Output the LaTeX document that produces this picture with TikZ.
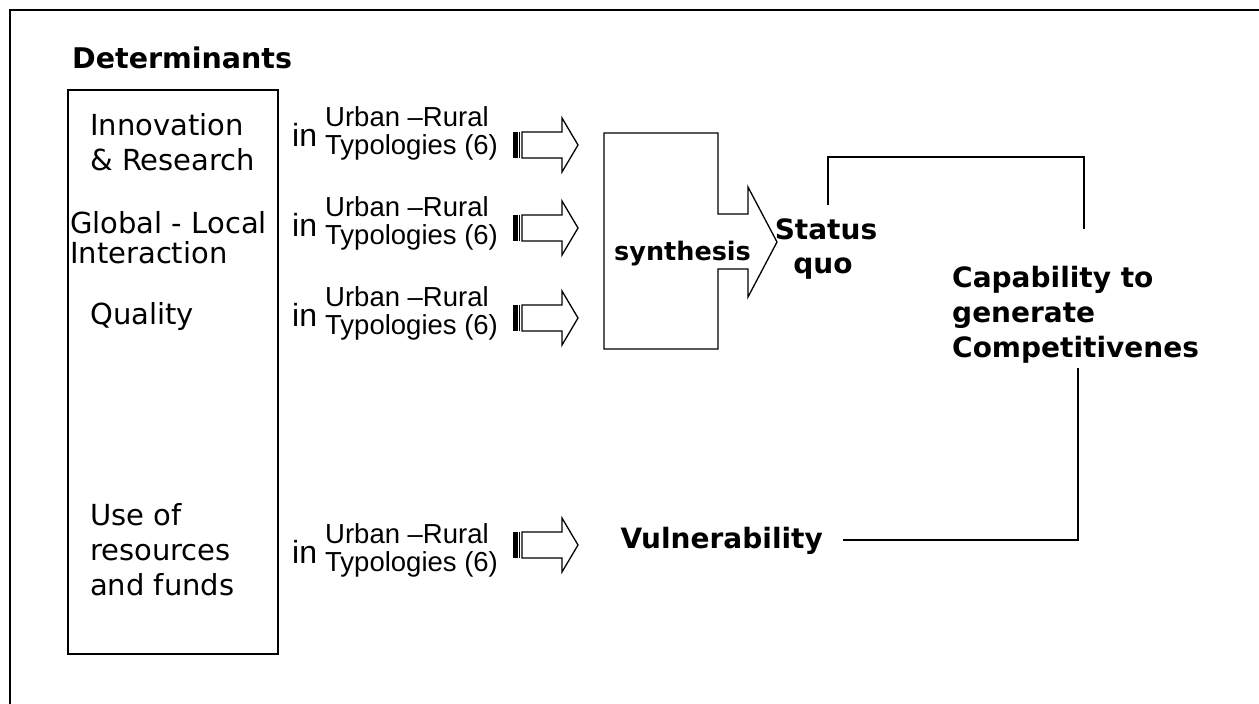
\documentclass[tikz,border=0pt]{standalone}
\usepackage{fontspec}
\setmainfont{DejaVu Sans}
\newfontfamily\arialfont{Liberation Sans}
\begin{document}
\begin{tikzpicture}[x=1pt,y=-1pt,
  frameline/.style={line width=2pt},
  boxline/.style={line width=1.5pt},
  conn/.style={line width=1.5pt},
  lbl/.style={anchor=base west, inner sep=0pt, font=\fontsize{29}{35}\selectfont},
  head/.style={inner sep=0pt, font=\bfseries\fontsize{28}{35}\selectfont},
  smallin/.style={anchor=base west, inner sep=0pt, font=\arialfont\fontsize{32}{36}\selectfont},
  typo/.style={anchor=base west, inner sep=0pt, font=\arialfont\fontsize{27.5}{30}\selectfont},
  striped/.pic={
    \fill (-32.5,-13) rectangle (-28,13);
    \fill (-27,-13) rectangle (-25.3,13);
    \draw[line width=1.3pt, line join=miter]
      (-23.5,-13) -- (16.5,-13) -- (16.5,-27) -- (32.5,0)
      -- (16.5,27) -- (16.5,13) -- (-23.5,13) -- cycle;
  }]
\useasboundingbox (0,0) rectangle (1259,704);

% outer frame (only its top and left edges fall inside the page)
\draw[frameline] (10,704) -- (10,10) -- (1259,10);

% determinants
\node[head, anchor=base west, font=\bfseries\fontsize{28.5}{35}\selectfont] (det) at (72,68) {Determinants};
\draw[boxline] (68,90) rectangle (278,654);
\node[lbl] (inno) at (90,135) {Innovation};
\node[lbl] (res)  at (90,170) {\& Research};
\node[lbl] (glob) at (70,233) {Global - Local};
\node[lbl] (inter) at (70,263) {Interaction};
\node[lbl] (qual) at (90,324) {Quality};
\node[lbl] (use)  at (90,525) {Use of};
\node[lbl] (reso) at (90,560) {resources};
\node[lbl] (fund) at (90,595) {and funds};

% typology labels and striped arrows
\foreach \b/\a/\n in {154/145/1, 244/228/2, 334/318/3, 571/545/4}{
  \node[smallin] (in\n) at (292,\b-8) {in};
  \node[typo] (ur\n) at (325,\b-28) {Urban –Rural};
  \node[typo] (ty\n) at (325,\b) {Typologies (6)};
  \pic (arr\n) at (545.5,\a) {striped};
}

% synthesis block arrow
\draw[line width=1.3pt, line join=miter]
  (604,133) -- (718,133) -- (718,214) -- (748,214) -- (748,187)
  -- (777,242) -- (748,297) -- (748,269) -- (718,269) -- (718,349)
  -- (604,349) -- cycle;
\node[inner sep=0pt, anchor=base west, font=\bfseries\fontsize{25.5}{30}\selectfont]
  (syn) at (614,260) {synthesis};

\node[head, anchor=base] (stat) at (826,239) {Status};
\node[head, anchor=base] (quo) at (823,273) {quo};

\node[head, anchor=base west] (cap1) at (952,287) {Capability to};
\node[head, anchor=base west] (cap2) at (952,322) {generate};
\node[head, anchor=base west] (cap3) at (952,357) {Competitivenes};

\node[head, anchor=base east] (vul) at (823,548) {Vulnerability};

% connectors
\coordinate (sq) at (828,205);
\coordinate (capT) at (1084,229);
\coordinate (capB) at (1078,368);
\coordinate (vulR) at (843,540);
\draw[conn] (sq) -- (sq |- 0,157) -- (capT |- 0,157) -- (capT);
\draw[conn] (vulR) -- (capB |- vulR) -- (capB);
\end{tikzpicture}
\end{document}
